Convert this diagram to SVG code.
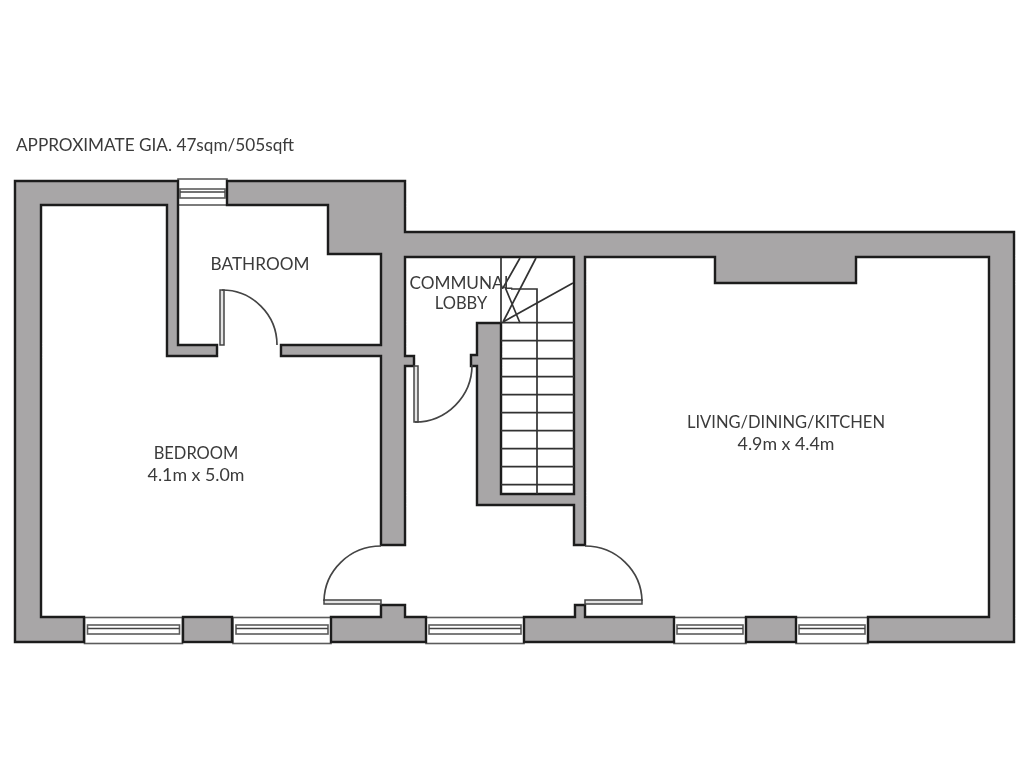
<svg xmlns="http://www.w3.org/2000/svg" width="1024" height="768" viewBox="0 0 1024 768">
<style>
.wall{fill:#a8a6a7;stroke:#1c1c1c;stroke-width:2.4;stroke-linejoin:miter}
.win{fill:#fff;stroke:#5c5c5c;stroke-width:1.6}
.ln{fill:none;stroke:#444;stroke-width:1.7}
.stair{fill:none;stroke:#333;stroke-width:1.7}
.leaf{fill:#e4e4e4;stroke:#444;stroke-width:1.5}
.lbl{font-family:"Lato","Open Sans",sans-serif;font-size:16.5px;fill:#3a3a3a;text-anchor:middle}
.big{font-size:17.2px}
.dim{font-size:17.8px}
</style>
<defs>
<filter id="soft" filterUnits="userSpaceOnUse" x="0" y="0" width="1024" height="768"><feGaussianBlur stdDeviation="0.45"/></filter>
<g id="winH">
<rect class="win" x="0" y="0" width="98" height="26"/>
<rect class="win" x="3" y="7.500" width="92" height="9"/>
<line class="ln" x1="3" y1="11" x2="95" y2="11"/>
</g>
<g id="winS">
<rect class="win" x="0" y="0" width="72" height="26"/>
<rect class="win" x="3" y="7.500" width="66" height="9"/>
<line class="ln" x1="3" y1="11" x2="69" y2="11"/>
</g>
</defs>
<rect width="1024" height="768" fill="#fff"/>
<g filter="url(#soft)">
<g id="windows">
<use href="#winH" x="84.500" y="617.500"/>
<use href="#winH" x="233" y="617.500"/>
<use href="#winH" x="426" y="617.500"/>
<use href="#winS" x="674" y="617.500"/>
<use href="#winS" x="796" y="617.500"/>
<g id="bath-window">
<rect class="win" x="178" y="179" width="49" height="26"/>
<rect class="win" x="180" y="189" width="45" height="9"/>
<line class="ln" x1="180" y1="192" x2="225" y2="192"/>
</g>
</g>
<g id="walls">
<path class="wall" d="M15 181H178V345H217V356H167V205H41V617H84V642H15Z"/>
<path class="wall" d="M227 181H405V232H1014V642H868V617H989V257H856V283H715V257H585V545H574V505H477V366H471V355H477V323H501V494H574V257H405V356H414V366H405V545H381V356H281V345H381V254H328V205H227Z"/>
<rect class="wall" x="183" y="617" width="49" height="25"/>
<path class="wall" d="M331 617H381V605H405V617H426V642H331Z"/>
<path class="wall" d="M524 617H575V605H585V617H674V642H524Z"/>
<rect class="wall" x="746" y="617" width="50" height="25"/>
</g>
<g id="stairs">
<path class="stair" d="M501 258V323M501 322.700H574M501 340.700H574M501 358.700H574M501 376.700H574M501 394.700H574M501 412.700H574M501 430.700H574M501 448.700H574M501 466.700H574M501 484.700H574"/>
<path class="stair" d="M537 494V289H511"/>
<path class="stair" d="M520 258L503 288M536 258L503 322M573 283L503 322M505 287L520 323"/>
</g>
<g id="doors">
<rect class="leaf" x="220" y="290" width="4" height="55"/>
<path class="ln" d="M222 290A55 55 0 0 1 277 345"/>
<rect class="leaf" x="414" y="366" width="4" height="56"/>
<path class="ln" d="M415 422A57 57 0 0 0 472 365"/>
<rect class="leaf" x="324" y="600" width="57" height="4"/>
<path class="ln" d="M324 601A57 56 0 0 1 381 546"/>
<rect class="leaf" x="585" y="600" width="57" height="4"/>
<path class="ln" d="M642 601A57 56 0 0 0 585 546"/>
</g>
<g id="labels">
<text class="lbl big" x="155" y="151">APPROXIMATE GIA. 47sqm/505sqft</text>
<text class="lbl big" x="260" y="270">BATHROOM</text>
<text class="lbl big" x="461" y="289">COMMUNAL</text>
<text class="lbl" x="461" y="309">LOBBY</text>
<text class="lbl" x="196" y="459">BEDROOM</text>
<text class="lbl dim" x="196" y="481">4.1m x 5.0m</text>
<text class="lbl" x="786" y="428">LIVING/DINING/KITCHEN</text>
<text class="lbl dim" x="786" y="450">4.9m x 4.4m</text>
</g>
</g>
</svg>
